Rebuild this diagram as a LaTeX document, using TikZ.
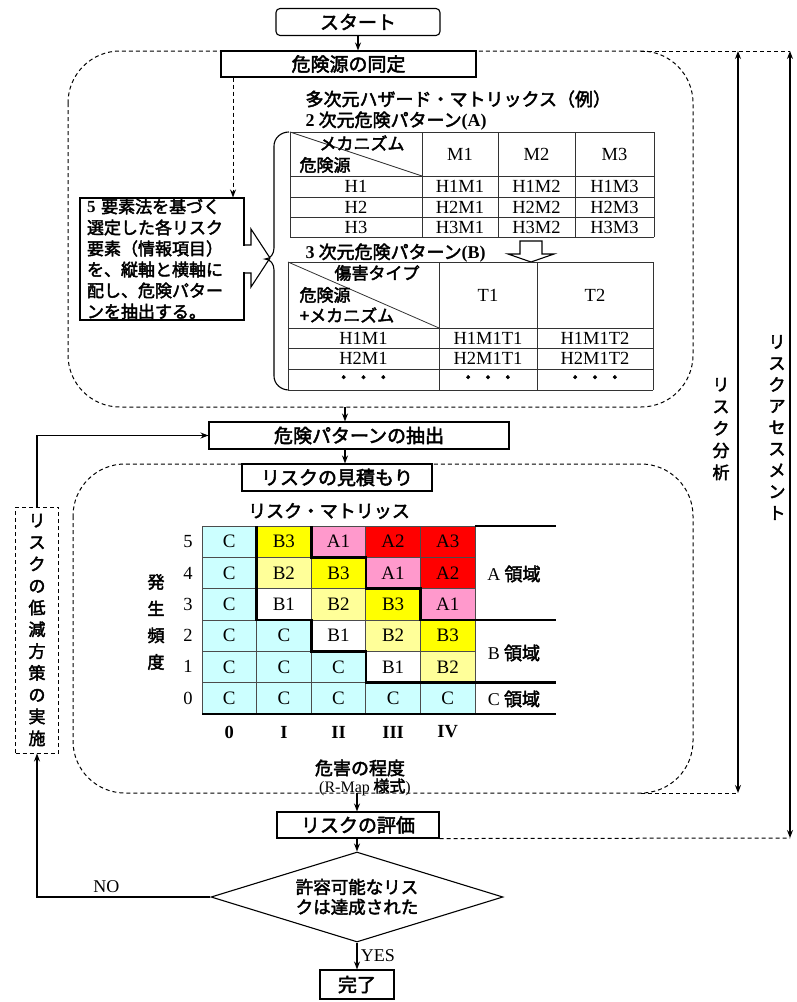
\documentclass[tikz,border=0pt]{standalone}
\usepackage{fontspec}
\setmainfont{Liberation Serif}
\newfontfamily\jp{Noto Sans CJK JP}
\newfontfamily\jpb[FakeBold=2.5]{Noto Sans CJK JP}
\usetikzlibrary{arrows.meta,positioning,shapes.geometric}
\definecolor{paleCyan}{RGB}{204,255,255}
\definecolor{paleYellow}{RGB}{255,255,153}
\definecolor{riskPink}{RGB}{255,153,204}
\definecolor{riskRed}{RGB}{255,0,0}
\definecolor{riskYellow}{RGB}{255,255,0}

\begin{document}
\begin{tikzpicture}[x=1pt,y=-1pt,>={Stealth[length=8pt,width=6pt]},line width=1.1pt,
	flow box/.style={rectangle,draw,inner sep=0pt,font=\fontsize{19}{22}\jpb},
	dash line/.style={dash pattern=on 4pt off 3pt,line width=1pt},
	head line/.style={inner sep=0pt,font=\fontsize{18}{22}\jpb},
	table line/.style={line width=0.8pt,draw=black!80},
	table text/.style={inner sep=0pt,font=\fontsize{18.5}{22}\selectfont},
	head text/.style={inner sep=0pt,font=\fontsize{17}{20}\jpb},
	risk cell/.style={rectangle,draw=black!70,line width=0.8pt,inner sep=0pt,outer sep=0pt,
		minimum width=54.6pt,minimum height=31.3pt,font=\fontsize{19}{22}\selectfont},
	vlabel/.style={align=center,inner sep=0pt,font=\fontsize{17}{#1}\jpb},vlabel/.default=21.5,
	border/.style={line width=2.6pt}]

	\useasboundingbox (0,0) rectangle (796,1002);

	% flow column
	\node[flow box,rounded corners=4pt,minimum width=164pt,minimum height=27pt] (start) at (358,22) {スタート};
	\node[flow box,minimum width=255pt,minimum height=26pt] (ident) at (348.5,64) {危険源の同定};
	\node[flow box,minimum width=300pt,minimum height=27pt] (extract) at (359,435.5) {危険パターンの抽出};
	\node[flow box,minimum width=190pt,minimum height=27pt] (estimate) at (337,477.5) {リスクの見積もり};
	\node[flow box,minimum width=162pt,minimum height=26pt] (eval) at (358,825) {リスクの評価};
	\node[flow box,diamond,aspect=3.2,minimum width=292pt,minimum height=90pt,align=center,
		font=\fontsize{17.5}{20}\jpb] (dec) at (357,897) {許容可能なリス\\クは達成された};
	\node[flow box,minimum width=74pt,minimum height=29pt] (done) at (357,984.5) {完了};
	\node[flow box,dash line,minimum width=43pt,minimum height=246pt,vlabel=21.8] (reduce) at (37,630)
		{リ\\ス\\ク\\の\\低\\減\\方\\策\\の\\実\\施};

	% dashed regions
	\draw[dash line,rounded corners=52pt] (68,51) rectangle (693,407);
	\draw[dash line,rounded corners=52pt] (73,464) rectangle (693,793);
	\coordinate (anaTop) at (738,51);
	\coordinate (anaBot) at (738,793);
	\coordinate (assTop) at (790,51);
	\coordinate (assBot) at (790,838);
	\coordinate (upBot) at (345,407);
	\coordinate (loBot) at (357,793);
	\coordinate (drop) at (233,0);
	\draw[dash line] (641,51) -- (assTop);
	\draw[dash line] (641,793) -- (anaBot);
	\draw[dash line] (eval.south east) -- (assBot);
	\draw[<->] (anaTop) -- (anaBot);
	\draw[<->] (assTop) -- (assBot);
	\node[vlabel=22] (ana) at (721,429) {リ\\ス\\ク\\分\\析};
	\node[vlabel=21.4] (ass) at (777,427.5) {リ\\ス\\ク\\ア\\セ\\ス\\メ\\ン\\ト};

	% hazard matrix part
	\node[flow box,minimum width=164pt,minimum height=122pt,text width=150pt,inner xsep=7pt,align=left,
		font=\fontsize{17}{21}\jpb] (elem) at (162,259)
		{{\rmfamily\bfseries 5} 要素法を基づく\\選定した各リスク\\要素（情報項目）\\を、縦軸と横軸に\\配し、危険パター\\ンを抽出する。};
	\draw[dash line,->] (ident.south -| drop) -- (elem.north -| drop);
	\fill[white] (243,245.6) rectangle (245,272.4);
	\draw (244,245) -- (251,245) -- (251,229) -- (270,258) -- (251,287) -- (251,273) -- (244,273);
	\draw (289,132) to[out=180,in=90] (274,146) -- (274,248) to[out=-90,in=0] (265,259)
		to[out=0,in=90] (274,270) -- (274,376) to[out=-90,in=180] (289,390);

	\node[head line,anchor=west] (hzTitle) at (305,99) {多次元ハザード・マトリックス（例）};
	\node[head line,anchor=west] (pat2) at (305,121) {{\rmfamily\bfseries 2} 次元危険パターン{\rmfamily\bfseries (A)}};
	\node[head line,anchor=west] (pat3) at (305,253) {{\rmfamily\bfseries 3} 次元危険パターン{\rmfamily\bfseries (B)}};

	\foreach \x in {290,422,498,575,654} \draw[table line] (\x,132) -- (\x,237);
	\foreach \y in {132,176,197,217,237} \draw[table line] (290,\y) -- (654,\y);
	\draw[table line] (290,132) -- (422,176);
	\node[head text] (mech) at (362,143) {メカニズム};
	\node[head text] (src) at (325,165) {危険源};
	\foreach \m/\x in {1/460,2/536.5,3/614.5}
		\node[table text] (m\m) at (\x,154) {M\m};
	\foreach \h/\y in {1/186.5,2/207,3/227} {
		\node[table text] (h\h) at (356,\y) {H\h};
		\foreach \m/\x in {1/460,2/536.5,3/614.5}
			\node[table text] (h\h-\m) at (\x,\y) {H\h M\m};
	}

	\draw (520,241) -- (520,254) -- (508,254) -- (531,262) -- (554,254) -- (542,254) -- (542,241) -- cycle;

	\foreach \x in {288,439,537,653} \draw[table line] (\x,262) -- (\x,390);
	\foreach \y in {262,328,348,369,390} \draw[table line] (288,\y) -- (653,\y);
	\draw[table line] (288,262) -- (439,328);
	\node[head text] (harm) at (377,273) {傷害タイプ};
	\node[head text] (src3) at (325,295) {危険源};
	\node[head text] (mech3) at (347,315) {+メカニズム};
	\node[table text] (t1) at (488,295) {T1};
	\node[table text] (t2) at (595,295) {T2};
	\foreach \k/\y in {1/338,2/358.5} {
		\node[table text] (hm\k) at (363.5,\y) {H\k M1};
		\node[table text] (hm\k-1) at (488,\y) {H\k M1T1};
		\node[table text] (hm\k-2) at (595,\y) {H\k M1T2};
	}
	\foreach \x [count=\j] in {363.5,488,595}
		\node[head text] (dots\j) at (\x,379.5) {・\,・\,・};

	% risk matrix
	\node[head line] (rmTitle) at (329,511) {リスク・マトリッス};
	\foreach \row [count=\i] in {{paleCyan/C,riskYellow/B3,riskPink/A1,riskRed/A2,riskRed/A3},
		{paleCyan/C,paleYellow/B2,riskYellow/B3,riskPink/A1,riskRed/A2},
		{paleCyan/C,white/B1,paleYellow/B2,riskYellow/B3,riskPink/A1},
		{paleCyan/C,paleCyan/C,white/B1,paleYellow/B2,riskYellow/B3},
		{paleCyan/C,paleCyan/C,paleCyan/C,white/B1,paleYellow/B2},
		{paleCyan/C,paleCyan/C,paleCyan/C,paleCyan/C,paleCyan/C}}
		\foreach \shade/\grade [count=\j] in \row
			\node[risk cell,fill=\shade] (m\i\j) at ({202+54.6*(\j-0.5)},{526+31.3*(\i-0.5)}) {\grade};
	\coordinate (mr) at (556,0);
	\draw[border] (m12.north west) -- (m32.south west) -- (m33.south west) -- (m43.south west)
		-- (m44.south west) -- (m54.south west) -- (m54.south west -| mr);
	\draw[border] (m13.north west) -- (m13.south west) -- (m14.south west) -- (m24.south west)
		-- (m25.south west) -- (m35.south west) -- (m35.south west -| mr);
	\draw[border] (m15.north east) -- (m15.north east -| mr);
	\draw[border] (m61.south west) -- (m65.south east -| mr);

	\foreach \n [count=\i] in {5,4,3,2,1,0}
		\node[table text] (f\n) at (188,{526+31.3*(\i-0.5)}) {\n};
	\foreach \c [count=\j] in {0,I,II,III,IV}
		\node[table text,font=\fontsize{18.5}{22}\bfseries] (s\j) at ({202+54.6*(\j-0.5)},732) {\c};
	\node[vlabel=26.7] (freq) at (156,622) {発\\生\\頻\\度};
	\node[head line] (zoneA) at (514,574) {{\rmfamily A} 領域};
	\node[head line] (zoneB) at (514,653) {{\rmfamily B} 領域};
	\node[head line] (zoneC) at (514,699) {{\rmfamily C} 領域};
	\node[head line] (sev) at (360,768) {危害の程度};
	\node[head line,font=\fontsize{16}{20}\jpb] (rmap) at (365,787) {{\rmfamily (R-Map} 様式{\rmfamily )}};

	% connectors
	\draw[->] (start.south) -- (start.south |- ident.north);
	\draw[->] (upBot) -- (upBot |- extract.north);
	\draw[->] (extract.south -| upBot) -- (estimate.north -| upBot);
	\draw[->] (loBot) -- (loBot |- eval.north);
	\draw[->] (eval.south -| dec.north) -- (dec.north);
	\draw[->] (reduce.north) |- (extract.west);
	\path[every node/.style={font=\fontsize{18}{22}\selectfont}]
		(dec.west) edge[->,to path={-| (\tikztotarget) \tikztonodes}] node[above,pos=0.3] {NO} (reduce.south)
		(dec.south) edge[->] node[right] {YES} (done.north);
\end{tikzpicture}
\end{document}
